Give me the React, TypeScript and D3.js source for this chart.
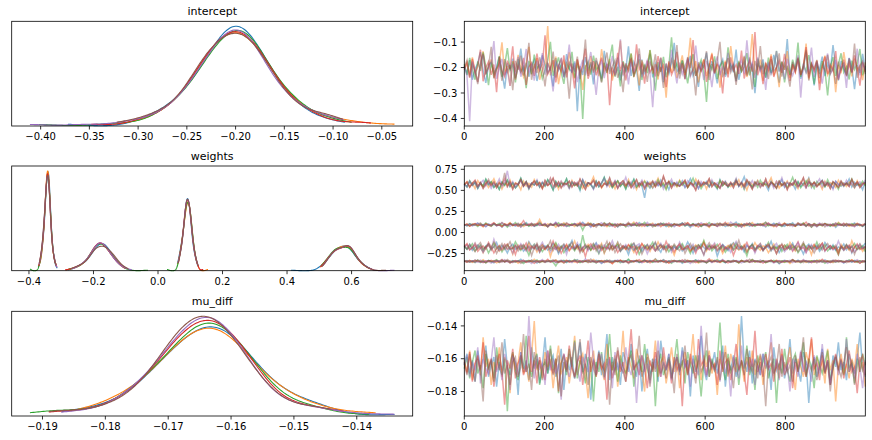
import * as d3 from 'd3';

// chain colours (matplotlib tab10)
const CHAIN_COLORS = ['#1f77b4', '#ff7f0e', '#2ca02c', '#d62728', '#9467bd', '#8c564b'];
const N_DRAWS = 1000;
const DRAW_TICKS = [0, 200, 400, 600, 800];

// posterior samples per chain, thinned across the 1000 draws, values in thousandths
const INTERCEPT = [
  [-196, -223, -171, -248, -205, -184, -139, -212, -260, -191,
   -177, -230, -202, -158, -219, -283, -188, -207, -165, -241,
   -199, -126, -215, -181, -236, -194, -170, -253, -209, -152,
   -186, -222, -200, -274, -163, -211, -190, -237, -147, -204,
   -218, -176, -372, -195, -229, -159, -208, -187, -266, -173,
   -201, -243, -134, -214, -182, -226, -198, -161, -250, -189,
   -210, -117, -233, -178, -205, -292, -169, -220, -193, -145,
   -239, -185, -212, -164, -257, -197, -226, -181, -103, -216,
   -203, -172, -245, -190, -154, -231, -208, -276, -183, -199,
   -141, -224, -175, -211, -262, -192, -168, -236, -206, -186,
   -219, -129, -248, -197, -179, -227, -160, -213, -301, -189,
   -202, -168, -240, -184, -221, -150, -195, -259, -176, -209,
   -88, -232, -188, -214, -166, -244, -201, -137, -225, -180,
   -270, -193, -207, -157, -234, -185, -217, -112, -196, -251,
   -174, -206, -228, -162, -199, -285, -190, -221, -146, -211],
  [-205, -178, -231, -160, -214, -256, -189, -136, -222, -197,
   -168, -240, -209, -183, -101, -227, -193, -272, -175, -216,
   -150, -203, -236, -186, -119, -221, -199, -163, -248, -211,
   -182, -37, -230, -194, -157, -265, -207, -176, -219, -140,
   -200, -243, -171, -212, -288, -190, -225, -155, -208, -184,
   -234, -128, -196, -217, -166, -251, -201, -179, -94, -228,
   -192, -210, -145, -238, -185, -270, -172, -213, -199, -132,
   -224, -187, -247, -161, -206, -318, -181, -220, -170, -241,
   -198, -152, -229, -189, -83, -215, -175, -258, -203, -167,
   -233, -194, -142, -219, -186, -279, -208, -173, -226, -116,
   -197, -245, -180, -211, -159, -237, -191, -68, -223, -204,
   -169, -252, -186, -215, -148, -231, -199, -277, -177, -209,
   -135, -240, -193, -218, -164, -226, -201, -106, -246, -188,
   -214, -172, -262, -196, -153, -229, -207, -183, -297, -190,
   -222, -139, -204, -177, -235, -165, -211, -192, -249, -180],
  [-187, -229, -162, -205, -248, -176, -213, -140, -196, -269,
   -180, -221, -201, -155, -237, -192, -124, -210, -185, -258,
   -167, -216, -198, -281, -174, -226, -149, -203, -190, -243,
   -211, -171, -99, -232, -195, -160, -219, -264, -183, -207,
   -138, -240, -188, -215, -402, -199, -177, -228, -153, -209,
   -193, -255, -182, -221, -166, -110, -236, -197, -274, -175,
   -214, -189, -145, -230, -204, -168, -249, -186, -222, -131,
   -201, -291, -179, -217, -158, -238, -194, -81, -212, -183,
   -226, -172, -206, -262, -191, -147, -233, -199, -170, -219,
   -335, -184, -208, -156, -245, -195, -178, -227, -121, -203,
   -190, -252, -174, -216, -198, -143, -231, -185, -276, -165,
   -209, -187, -240, -161, -222, -200, -134, -214, -180, -258,
   -193, -228, -169, -206, -102, -237, -189, -217, -151, -201,
   -265, -182, -224, -175, -211, -310, -196, -159, -233, -188,
   -144, -219, -198, -247, -173, -208, -185, -127, -230, -194],
  [-209, -183, -241, -166, -222, -195, -130, -254, -201, -177,
   -229, -188, -297, -158, -214, -236, -173, -205, -117, -247,
   -192, -219, -162, -268, -198, -181, -233, -145, -210, -187,
   -73, -226, -204, -171, -258, -193, -215, -152, -239, -180,
   -202, -282, -167, -221, -190, -126, -244, -208, -175, -230,
   -196, -161, -217, -185, -348, -200, -231, -142, -212, -179,
   -250, -194, -168, -224, -109, -207, -186, -263, -173, -219,
   -198, -235, -155, -211, -190, -277, -176, -228, -203, -138,
   -215, -184, -246, -164, -202, -92, -233, -191, -213, -170,
   -256, -197, -148, -222, -185, -206, -302, -178, -239, -160,
   -210, -189, -225, -133, -243, -199, -172, -216, -61, -230,
   -192, -265, -181, -209, -156, -237, -201, -174, -221, -146,
   -204, -252, -187, -218, -165, -229, -195, -120, -240, -183,
   -212, -176, -289, -198, -157, -226, -190, -213, -135, -248,
   -205, -169, -234, -186, -220, -152, -200, -271, -180, -217],
  [-194, -233, -411, -176, -210, -258, -188, -150, -221, -202,
   -181, -96, -244, -197, -166, -229, -208, -272, -185, -214,
   -158, -236, -199, -127, -219, -190, -251, -173, -206, -143,
   -228, -186, -213, -294, -179, -201, -162, -240, -195, -110,
   -220, -183, -257, -204, -170, -231, -191, -139, -216, -308,
   -198, -175, -242, -187, -211, -154, -225, -201, -89, -234,
   -189, -266, -178, -215, -196, -147, -238, -205, -172, -222,
   -356, -193, -209, -161, -247, -184, -218, -130, -200, -262,
   -181, -226, -194, -168, -235, -207, -114, -212, -188, -249,
   -174, -203, -277, -191, -156, -230, -198, -219, -142, -210,
   -185, -255, -196, -171, -224, -93, -206, -182, -241, -160,
   -214, -192, -288, -178, -227, -203, -135, -217, -189, -246,
   -165, -209, -232, -197, -152, -318, -184, -221, -200, -122,
   -237, -176, -213, -263, -190, -145, -226, -206, -170, -243,
   -199, -186, -280, -163, -215, -194, -126, -231, -180, -208],
  [-200, -171, -237, -188, -214, -265, -179, -146, -226, -195,
   -119, -243, -205, -183, -252, -167, -218, -190, -289, -174,
   -209, -153, -231, -197, -103, -248, -186, -222, -160, -201,
   -274, -181, -212, -137, -239, -193, -169, -228, -207, -322,
   -184, -216, -157, -245, -199, -90, -233, -178, -220, -162,
   -206, -259, -189, -141, -225, -196, -172, -240, -211, -297,
   -183, -214, -164, -236, -202, -125, -227, -191, -256, -176,
   -210, -148, -234, -198, -280, -185, -217, -168, -203, -112,
   -243, -190, -221, -159, -230, -206, -310, -179, -213, -195,
   -136, -249, -187, -224, -172, -99, -238, -201, -163, -219,
   -192, -268, -181, -211, -154, -232, -197, -286, -174, -208,
   -116, -226, -193, -245, -167, -214, -200, -144, -236, -185,
   -219, -275, -178, -207, -160, -229, -196, -131, -251, -188,
   -204, -170, -241, -192, -213, -150, -223, -199, -264, -177,
   -209, -185, -230, -165, -218, -106, -240, -194, -175, -226],
];

const WEIGHTS_0 = [
  [-340, -352, -333, -346, -328, -343, -357, -337, -349, -331,
   -344, -361, -336, -341, -325, -348, -339, -354, -334, -345,
   -342, -318, -350, -338, -347, -330, -344, -363, -336, -341,
   -353, -335, -346, -339, -327, -351, -343, -337, -358, -332,
   -345, -340, -322, -349, -336, -343, -355, -338, -347, -329,
   -341, -368, -334, -346, -339, -352, -331, -344, -337, -356,
   -342, -326, -348, -340, -335, -359, -343, -333, -350, -338,
   -345, -312, -347, -341, -336, -354, -339, -344, -330, -349,
   -337, -365, -342, -334, -346, -340, -324, -351, -338, -343,
   -357, -332, -345, -339, -348, -335, -341, -360, -336, -344,
   -328, -350, -342, -337, -353, -340, -346, -319, -343, -338,
   -349, -334, -356, -341, -335, -347, -339, -371, -344, -331,
   -342, -353, -337, -345, -327, -348, -340, -336, -358, -343,
   -333, -346, -341, -350, -325, -344, -338, -355, -336, -347,
   -340, -362, -334, -343, -349, -330, -345, -339, -352, -337],
  [-337, -348, -331, -355, -342, -336, -346, -323, -351, -340,
   -344, -334, -359, -341, -347, -329, -343, -338, -352, -335,
   -366, -341, -333, -349, -339, -345, -317, -350, -337, -343,
   -354, -332, -346, -340, -326, -348, -342, -361, -336, -344,
   -339, -352, -330, -347, -341, -335, -357, -343, -321, -349,
   -338, -345, -333, -350, -342, -369, -337, -346, -331, -344,
   -340, -355, -336, -348, -327, -343, -339, -353, -334, -347,
   -342, -315, -350, -338, -345, -336, -359, -341, -332, -348,
   -344, -339, -354, -329, -346, -340, -337, -363, -343, -335,
   -351, -342, -324, -347, -338, -356, -333, -345, -340, -349,
   -336, -343, -360, -331, -348, -341, -345, -320, -352, -339,
   -344, -334, -357, -342, -337, -350, -328, -346, -340, -353,
   -338, -367, -343, -335, -348, -341, -330, -355, -345, -337,
   -349, -342, -326, -351, -339, -344, -336, -358, -333, -347,
   -341, -350, -338, -345, -322, -348, -343, -335, -356, -340],
  [-343, -335, -350, -338, -356, -329, -345, -341, -361, -334,
   -347, -339, -322, -352, -337, -344, -333, -358, -342, -348,
   -336, -345, -368, -340, -331, -349, -343, -326, -355, -338,
   -346, -341, -334, -353, -397, -344, -339, -330, -350, -336,
   -347, -320, -342, -357, -338, -345, -332, -351, -340, -363,
   -335, -348, -343, -327, -354, -339, -346, -337, -359, -333,
   -344, -316, -349, -341, -336, -352, -343, -330, -347, -338,
   -356, -342, -334, -345, -324, -350, -339, -364, -337, -344,
   -331, -348, -342, -353, -336, -345, -328, -351, -340, -343,
   -358, -333, -346, -339, -319, -347, -341, -355, -335, -349,
   -343, -337, -362, -332, -345, -340, -352, -327, -348, -338,
   -344, -335, -357, -341, -346, -330, -350, -343, -336, -354,
   -339, -347, -323, -345, -340, -359, -334, -348, -342, -337,
   -351, -329, -344, -338, -366, -341, -346, -333, -353, -340,
   -336, -349, -343, -325, -347, -339, -356, -335, -345, -341],
  [-339, -351, -334, -346, -327, -348, -342, -358, -336, -344,
   -331, -353, -340, -345, -321, -349, -338, -362, -343, -335,
   -347, -341, -330, -354, -337, -344, -366, -339, -348, -333,
   -345, -318, -350, -342, -336, -357, -340, -346, -328, -352,
   -343, -337, -360, -334, -347, -341, -325, -349, -338, -355,
   -344, -332, -351, -340, -346, -370, -336, -343, -329, -348,
   -341, -356, -335, -345, -339, -323, -352, -342, -337, -359,
   -333, -347, -343, -330, -350, -338, -364, -345, -336, -341,
   -348, -326, -354, -340, -344, -335, -357, -342, -331, -346,
   -339, -313, -349, -343, -337, -352, -334, -345, -361, -340,
   -346, -332, -350, -338, -343, -327, -355, -341, -336, -348,
   -344, -363, -339, -345, -330, -351, -342, -335, -356, -340,
   -337, -348, -324, -346, -341, -353, -333, -344, -339, -359,
   -342, -335, -349, -317, -345, -340, -357, -336, -347, -331,
   -343, -352, -338, -346, -328, -350, -341, -365, -337, -344],
  [-341, -333, -349, -337, -355, -344, -328, -351, -340, -346,
   -362, -335, -343, -338, -352, -324, -347, -341, -357, -334,
   -345, -339, -331, -350, -342, -367, -336, -348, -343, -320,
   -353, -338, -346, -335, -359, -341, -327, -349, -344, -337,
   -356, -332, -345, -340, -350, -314, -347, -343, -336, -354,
   -339, -364, -342, -330, -348, -338, -345, -325, -352, -341,
   -336, -357, -344, -333, -349, -340, -361, -337, -346, -329,
   -343, -351, -335, -347, -322, -345, -339, -356, -342, -338,
   -348, -331, -353, -341, -369, -336, -344, -327, -350, -340,
   -345, -337, -358, -333, -347, -342, -319, -349, -339, -355,
   -343, -335, -346, -360, -340, -330, -351, -344, -338, -348,
   -326, -353, -341, -345, -336, -363, -342, -334, -350, -339,
   -347, -332, -357, -343, -337, -349, -321, -345, -341, -354,
   -338, -346, -335, -352, -340, -366, -343, -329, -348, -336,
   -344, -358, -339, -333, -351, -342, -323, -347, -340, -355],
  [-342, -336, -353, -339, -347, -326, -350, -343, -360, -334,
   -345, -340, -331, -356, -338, -348, -319, -344, -341, -352,
   -335, -365, -346, -339, -350, -329, -343, -337, -357, -342,
   -333, -348, -341, -324, -353, -345, -338, -362, -336, -347,
   -340, -330, -351, -343, -356, -335, -344, -316, -349, -339,
   -346, -337, -359, -342, -328, -352, -340, -345, -333, -354,
   -338, -368, -343, -347, -332, -350, -341, -325, -355, -337,
   -344, -339, -352, -334, -346, -361, -342, -330, -348, -340,
   -336, -353, -321, -345, -339, -357, -343, -335, -349, -341,
   -364, -338, -346, -331, -351, -344, -327, -354, -340, -347,
   -337, -342, -358, -333, -348, -345, -318, -350, -339, -343,
   -355, -336, -346, -341, -329, -352, -338, -366, -344, -335,
   -347, -340, -323, -351, -342, -337, -356, -334, -348, -345,
   -339, -360, -343, -330, -349, -341, -353, -336, -326, -346,
   -342, -338, -357, -344, -333, -350, -340, -363, -337, -348],
];

const WEIGHTS_1 = [
  [-165, -198, -142, -213, -176, -150, -187, -229, -161, -134,
   -192, -171, -118, -205, -156, -183, -244, -168, -139, -201,
   -177, -153, -221, -186, -108, -164, -195, -147, -236, -173,
   -159, -208, -182, -129, -170, -251, -190, -145, -216, -163,
   -96, -199, -175, -138, -227, -181, -157, -204, -166, -121,
   -188, -144, -240, -172, -197, -152, -179, -115, -211, -162,
   -185, -262, -169, -135, -193, -158, -224, -176, -148, -203,
   -167, -126, -189, -233, -160, -180, -141, -207, -174, -198,
   -155, -219, -184, -112, -170, -246, -163, -191, -137, -178,
   -206, -151, -186, -165, -280, -194, -143, -175, -215, -158,
   -123, -182, -202, -168, -231, -154, -188, -132, -196, -172,
   -161, -214, -146, -179, -104, -200, -166, -238, -184, -150,
   -192, -173, -127, -209, -162, -185, -256, -169, -140, -196,
   -178, -153, -222, -181, -117, -164, -199, -145, -211, -171,
   -187, -136, -205, -160, -243, -176, -149, -193, -168, -126],
  [-170, -143, -206, -181, -128, -195, -162, -239, -176, -151,
   -188, -114, -167, -221, -184, -139, -200, -173, -258, -156,
   -192, -148, -179, -210, -124, -187, -163, -232, -171, -145,
   -199, -159, -286, -183, -134, -205, -168, -190, -152, -217,
   -177, -101, -196, -164, -227, -180, -141, -209, -172, -155,
   -189, -131, -246, -175, -198, -160, -184, -119, -214, -166,
   -203, -150, -178, -237, -161, -193, -137, -186, -169, -224,
   -157, -197, -112, -181, -165, -211, -146, -190, -268, -174,
   -133, -201, -179, -158, -226, -185, -148, -194, -170, -107,
   -218, -163, -187, -140, -203, -176, -249, -182, -153, -197,
   -129, -171, -207, -186, -144, -230, -166, -192, -121, -180,
   -212, -157, -175, -240, -188, -136, -199, -162, -184, -147,
   -195, -117, -172, -220, -160, -185, -138, -205, -177, -264,
   -151, -191, -168, -127, -213, -182, -154, -196, -173, -235,
   -142, -187, -165, -208, -98, -178, -200, -159, -223, -183],
  [-158, -196, -174, -133, -220, -185, -149, -207, -167, -243,
   -180, -122, -192, -163, -231, -176, -145, -201, -188, -109,
   -169, -212, -154, -190, -270, -178, -137, -198, -165, -226,
   -183, -148, -205, -171, -119, -193, -160, -238, -186, -142,
   -175, -217, -152, -199, -31, -181, -164, -210, -140, -189,
   -251, -170, -196, -156, -128, -203, -177, -146, -223, -184,
   -162, -192, -136, -208, -173, -259, -187, -150, -197, -166,
   -115, -214, -179, -143, -191, -161, -229, -182, -154, -201,
   -171, -132, -195, -185, -247, -164, -209, -147, -178, -94,
   -190, -157, -218, -175, -139, -200, -168, -234, -183, -151,
   -206, -126, -180, -163, -194, -277, -172, -144, -211, -186,
   -159, -197, -177, -118, -215, -165, -189, -153, -225, -174,
   -141, -203, -181, -162, -240, -193, -134, -176, -207, -157,
   -187, -113, -199, -170, -148, -219, -184, -161, -195, -264,
   -166, -209, -145, -188, -173, -130, -202, -179, -155, -228],
  [-166, -131, -203, -178, -149, -224, -185, -160, -197, -117,
   -172, -241, -189, -155, -208, -168, -137, -194, -179, -262,
   -151, -199, -183, -126, -216, -163, -190, -145, -230, -175,
   -204, -158, -181, -102, -195, -170, -247, -186, -140, -211,
   -164, -193, -154, -221, -178, -288, -167, -135, -200, -182,
   -148, -212, -174, -191, -123, -206, -161, -236, -187, -156,
   -198, -143, -180, -165, -255, -192, -129, -176, -209, -153,
   -185, -220, -169, -147, -196, -106, -182, -162, -229, -173,
   -139, -201, -188, -157, -214, -177, -244, -164, -192, -125,
   -179, -207, -150, -184, -168, -133, -219, -174, -197, -160,
   -271, -189, -146, -203, -171, -118, -193, -183, -227, -156,
   -176, -210, -163, -138, -198, -181, -249, -167, -144, -205,
   -186, -154, -222, -173, -110, -194, -178, -234, -161, -190,
   -142, -200, -169, -127, -215, -184, -157, -196, -175, -259,
   -162, -208, -182, -149, -231, -171, -135, -202, -188, -165],
  [-173, -147, -205, -186, -124, -193, -160, -237, -178, -152,
   -199, -81, -168, -214, -183, -141, -201, -175, -248, -157,
   -190, -132, -181, -222, -164, -196, -145, -210, -172, -116,
   -185, -158, -229, -176, -203, -139, -188, -167, -260, -150,
   -194, -174, -121, -208, -182, -155, -217, -163, -192, -136,
   -242, -179, -148, -200, -170, -97, -187, -161, -225, -184,
   -143, -197, -176, -211, -156, -134, -190, -168, -253, -180,
   -159, -215, -173, -128, -202, -186, -149, -232, -165, -194,
   -113, -178, -207, -162, -184, -140, -220, -171, -189, -266,
   -154, -198, -169, -125, -212, -177, -146, -195, -183, -235,
   -164, -107, -191, -175, -206, -151, -186, -160, -244, -172,
   -138, -200, -181, -157, -218, -167, -130, -193, -176, -227,
   -189, -153, -211, -170, -119, -197, -162, -240, -180, -144,
   -205, -166, -185, -135, -223, -174, -158, -209, -191, -102,
   -177, -213, -150, -184, -163, -230, -196, -142, -188, -168],
  [-162, -199, -141, -184, -226, -157, -120, -193, -171, -138,
   -211, -160, -248, -186, -132, -202, -167, -109, -190, -153,
   -221, -176, -143, -197, -163, -273, -180, -127, -206, -149,
   -185, -169, -99, -214, -156, -232, -174, -136, -192, -161,
   -118, -203, -151, -242, -183, -140, -198, -166, -129, -219,
   -158, -188, -172, -104, -208, -146, -237, -178, -134, -194,
   -163, -213, -152, -125, -200, -170, -255, -187, -141, -196,
   -159, -111, -210, -175, -148, -229, -165, -191, -137, -180,
   -216, -155, -246, -182, -131, -204, -168, -145, -195, -264,
   -173, -122, -189, -160, -223, -179, -150, -201, -166, -139,
   -207, -181, -92, -193, -157, -235, -172, -144, -198, -162,
   -128, -217, -177, -154, -190, -168, -250, -185, -135, -205,
   -163, -197, -147, -183, -227, -171, -116, -200, -156, -188,
   -241, -174, -139, -209, -165, -130, -192, -179, -152, -220,
   -168, -186, -143, -203, -161, -258, -178, -133, -195, -170],
];

const WEIGHTS_2 = [
  [90, 78, 101, 86, 95, 112, 83, 92, 70, 99,
   88, 104, 81, 94, 63, 97, 85, 109, 91, 76,
   100, 87, 93, 118, 82, 96, 74, 89, 106, 84,
   92, 67, 98, 87, 115, 80, 94, 102, 73, 90,
   86, 108, 79, 95, 121, 88, 97, 71, 103, 85,
   93, 77, 99, 90, 110, 83, 96, 65, 101, 87,
   91, 105, 76, 94, 84, 117, 89, 98, 72, 92,
   81, 100, 88, 107, 95, 69, 86, 103, 78, 97,
   90, 113, 82, 93, 60, 99, 87, 104, 80, 95,
   89, 75, 101, 92, 108, 84, 96, 70, 94, 86,
   98, 124, 79, 91, 85, 102, 74, 97, 88, 106,
   83, 93, 66, 100, 89, 111, 78, 95, 87, 73,
   102, 90, 116, 81, 94, 86, 99, 77, 105, 88,
   92, 68, 97, 84, 109, 91, 80, 101, 62, 96,
   87, 104, 75, 93, 89, 114, 83, 98, 71, 100],
  [88, 99, 76, 93, 107, 84, 96, 66, 102, 90,
   81, 111, 87, 95, 73, 100, 92, 119, 79, 97,
   86, 104, 70, 94, 89, 108, 82, 98, 155, 91,
   77, 103, 88, 95, 64, 101, 85, 114, 80, 93,
   97, 72, 106, 87, 99, 83, 117, 90, 75, 96,
   102, 84, 93, 68, 109, 88, 98, 78, 105, 91,
   83, 100, 94, 123, 81, 96, 71, 103, 87, 92,
   110, 76, 98, 89, 85, 104, 67, 95, 88, 101,
   79, 97, 92, 115, 83, 94, 74, 106, 89, 99,
   86, 61, 102, 91, 108, 80, 96, 87, 112, 77,
   93, 99, 84, 105, 72, 97, 90, 118, 82, 95,
   88, 107, 78, 100, 92, 69, 103, 86, 94, 113,
   81, 96, 89, 74, 101, 91, 110, 83, 98, 65,
   104, 87, 95, 79, 106, 90, 84, 99, 76, 121,
   92, 85, 102, 73, 97, 88, 109, 80, 94, 100],
  [93, 81, 104, 88, 97, 70, 101, 86, 113, 92,
   78, 99, 89, 107, 84, 95, 63, 102, 91, 118,
   80, 96, 87, 105, 74, 93, 100, 82, 110, 89,
   97, 68, 103, 85, 94, 116, 79, 98, 88, 72,
   106, 91, 83, 100, 28, 95, 87, 109, 77, 92,
   99, 84, 115, 90, 73, 104, 86, 96, 81, 102,
   65, 94, 89, 107, 80, 97, 92, 121, 83, 99,
   87, 75, 101, 91, 110, 85, 96, 69, 103, 88,
   94, 112, 78, 98, 86, 106, 82, 93, 71, 100,
   90, 117, 84, 95, 76, 102, 89, 108, 80, 97,
   92, 66, 104, 87, 99, 83, 111, 90, 74, 96,
   101, 88, 119, 79, 94, 86, 105, 91, 70, 98,
   85, 103, 93, 77, 100, 89, 114, 82, 96, 64,
   107, 87, 95, 80, 102, 91, 73, 99, 84, 110,
   93, 78, 97, 88, 106, 83, 100, 90, 75, 104],
  [87, 99, 78, 94, 106, 83, 91, 72, 103, 89,
   96, 115, 81, 93, 68, 101, 88, 110, 85, 97,
   74, 92, 140, 86, 100, 79, 95, 108, 84, 90,
   102, 66, 98, 87, 113, 80, 94, 76, 105, 91,
   83, 99, 89, 120, 77, 96, 86, 104, 71, 93,
   100, 85, 111, 82, 97, 90, 63, 102, 88, 95,
   79, 107, 92, 84, 118, 87, 98, 73, 101, 90,
   94, 81, 105, 69, 97, 89, 112, 83, 99, 86,
   76, 103, 91, 116, 84, 95, 88, 65, 100, 92,
   108, 80, 97, 87, 74, 104, 93, 122, 82, 96,
   89, 101, 70, 94, 85, 110, 91, 78, 98, 87,
   103, 83, 96, 114, 81, 92, 67, 100, 88, 106,
   84, 97, 90, 75, 109, 86, 95, 124, 80, 93,
   99, 71, 102, 88, 106, 83, 94, 77, 97, 91,
   85, 111, 79, 96, 89, 73, 104, 92, 82, 100],
  [91, 84, 102, 77, 96, 110, 86, 93, 69, 99,
   88, 105, 80, 95, 117, 83, 92, 74, 101, 87,
   97, 65, 103, 89, 94, 112, 79, 98, 85, 90,
   107, 76, 96, 88, 122, 82, 100, 91, 71, 94,
   86, 104, 93, 78, 109, 89, 97, 62, 102, 85,
   95, 115, 81, 99, 87, 73, 106, 90, 84, 98,
   92, 70, 101, 86, 113, 80, 96, 89, 120, 83,
   99, 88, 75, 104, 91, 108, 82, 94, 67, 97,
   87, 110, 84, 100, 93, 77, 103, 86, 116, 90,
   79, 98, 91, 106, 72, 95, 88, 101, 83, 124,
   94, 85, 97, 64, 102, 89, 111, 81, 96, 87,
   100, 76, 93, 108, 84, 99, 90, 118, 78, 95,
   89, 103, 71, 97, 86, 105, 92, 80, 100, 66,
   96, 88, 114, 83, 94, 75, 101, 90, 107, 85,
   98, 79, 93, 104, 87, 68, 99, 91, 82, 109],
  [89, 97, 76, 103, 85, 94, 113, 81, 99, 88,
   72, 106, 91, 84, 118, 95, 79, 101, 87, 93,
   110, 66, 98, 90, 83, 104, 77, 96, 125, 86,
   92, 80, 107, 89, 97, 71, 102, 85, 115, 94,
   88, 99, 74, 105, 91, 82, 109, 87, 96, 63,
   101, 90, 78, 97, 111, 84, 93, 69, 103, 88,
   95, 120, 81, 98, 87, 76, 106, 91, 84, 100,
   67, 94, 89, 112, 82, 97, 90, 73, 104, 86,
   99, 85, 116, 92, 79, 101, 88, 107, 75, 96,
   90, 70, 103, 87, 94, 114, 83, 98, 91, 77,
   105, 89, 96, 64, 100, 86, 110, 80, 93, 97,
   84, 102, 122, 88, 95, 75, 99, 91, 82, 108,
   93, 78, 101, 86, 117, 90, 97, 72, 104, 87,
   81, 96, 89, 106, 68, 100, 92, 85, 113, 94,
   98, 83, 107, 90, 76, 103, 88, 95, 79, 101],
];

const WEIGHTS_3 = [
  [575, 541, 608, 560, 592, 523, 586, 551, 631, 569,
   600, 537, 579, 512, 597, 563, 618, 546, 588, 531,
   571, 644, 555, 603, 527, 583, 565, 611, 540, 591,
   557, 626, 574, 505, 604, 548, 585, 568, 637, 533,
   596, 560, 580, 498, 620, 552, 589, 572, 525, 607,
   544, 582, 655, 562, 598, 536, 577, 613, 550, 587,
   519, 601, 566, 633, 542, 584, 558, 412, 605, 573,
   529, 593, 556, 622, 547, 581, 510, 599, 567, 588,
   553, 615, 535, 576, 640, 561, 594, 521, 582, 569,
   606, 545, 590, 564, 517, 628, 559, 597, 538, 578,
   571, 612, 549, 585, 663, 557, 600, 532, 574, 616,
   543, 589, 566, 503, 609, 552, 583, 570, 627, 539,
   595, 561, 579, 515, 602, 547, 586, 574, 647, 534,
   598, 555, 582, 620, 544, 591, 563, 526, 606, 572,
   549, 587, 568, 636, 541, 596, 559, 577, 509, 604],
  [568, 604, 543, 587, 521, 615, 572, 549, 596, 534,
   580, 638, 557, 601, 516, 585, 563, 622, 545, 592,
   575, 507, 610, 552, 583, 539, 627, 568, 597, 527,
   577, 559, 643, 547, 590, 514, 606, 564, 581, 536,
   618, 555, 594, 572, 524, 603, 548, 586, 661, 561,
   599, 530, 578, 613, 544, 589, 519, 607, 567, 582,
   541, 630, 556, 595, 511, 584, 570, 616, 550, 598,
   533, 576, 646, 562, 591, 525, 609, 553, 579, 542,
   621, 566, 602, 537, 585, 557, 634, 573, 548, 594,
   518, 605, 564, 588, 531, 612, 558, 597, 575, 545,
   590, 566, 625, 540, 581, 503, 600, 571, 554, 617,
   536, 593, 562, 584, 649, 551, 606, 528, 577, 563,
   611, 546, 589, 570, 522, 602, 558, 587, 639, 543,
   597, 567, 580, 514, 608, 553, 592, 574, 535, 620,
   560, 585, 547, 599, 571, 528, 614, 556, 589, 565],
  [578, 542, 616, 561, 595, 527, 587, 552, 633, 568,
   604, 535, 575, 511, 599, 558, 623, 546, 590, 530,
   566, 642, 554, 601, 519, 584, 563, 612, 539, 593,
   550, 628, 576, 506, 605, 544, 588, 571, 637, 533,
   597, 559, 581, 515, 619, 548, 591, 565, 522, 609,
   542, 583, 652, 562, 600, 531, 577, 614, 547, 589,
   517, 603, 564, 630, 538, 585, 553, 605, 570, 527,
   594, 556, 624, 543, 581, 508, 600, 567, 587, 549,
   611, 560, 596, 534, 578, 645, 555, 592, 520, 573,
   586, 545, 607, 569, 529, 618, 557, 599, 540, 582,
   565, 631, 551, 593, 512, 604, 572, 548, 589, 536,
   621, 563, 583, 544, 597, 575, 526, 610, 558, 591,
   539, 579, 655, 561, 602, 532, 574, 616, 550, 584,
   524, 606, 566, 588, 543, 627, 556, 595, 572, 513,
   598, 548, 587, 568, 635, 541, 579, 562, 609, 553],
  [564, 600, 538, 585, 621, 548, 593, 524, 578, 610,
   556, 597, 532, 588, 569, 639, 543, 599, 513, 582,
   566, 626, 551, 594, 534, 579, 607, 557, 590, 520,
   616, 561, 581, 647, 545, 601, 528, 586, 571, 609,
   540, 595, 553, 633, 567, 510, 591, 576, 618, 547,
   598, 537, 584, 564, 643, 552, 603, 523, 580, 614,
   559, 592, 531, 574, 628, 546, 600, 518, 587, 568,
   608, 541, 596, 558, 669, 573, 605, 529, 589, 562,
   550, 583, 620, 536, 592, 566, 503, 611, 554, 597,
   577, 640, 544, 586, 563, 525, 604, 571, 549, 594,
   531, 612, 560, 588, 546, 624, 575, 515, 599, 565,
   583, 552, 636, 541, 596, 570, 527, 606, 557, 590,
   509, 587, 562, 618, 548, 579, 651, 535, 601, 567,
   593, 543, 580, 614, 555, 589, 522, 603, 572, 537,
   611, 559, 584, 546, 630, 564, 598, 533, 576, 592],
  [572, 546, 609, 561, 593, 532, 585, 619, 553, 598,
   524, 578, 565, 635, 542, 590, 733, 557, 604, 537,
   581, 613, 549, 596, 518, 587, 567, 626, 544, 601,
   556, 577, 645, 534, 592, 563, 611, 547, 584, 521,
   606, 570, 598, 540, 629, 559, 588, 575, 513, 602,
   551, 595, 638, 543, 582, 564, 617, 531, 590, 573,
   656, 550, 600, 527, 586, 568, 622, 545, 597, 536,
   580, 608, 557, 593, 515, 584, 571, 632, 552, 601,
   562, 589, 539, 614, 576, 548, 596, 525, 605, 566,
   583, 541, 624, 559, 592, 533, 578, 611, 554, 587,
   570, 643, 546, 599, 520, 585, 563, 616, 549, 594,
   535, 579, 603, 561, 588, 527, 609, 572, 650, 544,
   597, 558, 583, 617, 538, 591, 566, 529, 604, 575,
   552, 589, 636, 542, 598, 563, 580, 511, 607, 569,
   586, 548, 620, 555, 593, 534, 577, 601, 560, 625],
  [569, 598, 538, 583, 614, 551, 592, 525, 577, 630,
   560, 601, 533, 587, 566, 707, 547, 595, 519, 582,
   571, 623, 554, 604, 541, 580, 611, 563, 589, 528,
   618, 557, 584, 640, 548, 599, 535, 585, 574, 607,
   544, 593, 556, 634, 567, 515, 590, 576, 621, 550,
   602, 539, 581, 564, 650, 553, 605, 530, 586, 616,
   559, 594, 536, 573, 627, 546, 597, 522, 588, 570,
   612, 543, 596, 558, 661, 578, 603, 532, 591, 565,
   549, 584, 619, 540, 593, 568, 507, 609, 555, 598,
   579, 637, 545, 587, 562, 526, 606, 572, 551, 595,
   534, 613, 561, 589, 547, 625, 576, 517, 600, 566,
   585, 554, 633, 542, 597, 571, 529, 608, 558, 592,
   512, 588, 563, 620, 549, 580, 645, 537, 603, 568,
   594, 546, 582, 615, 557, 590, 524, 605, 574, 539,
   610, 561, 586, 548, 629, 567, 599, 535, 578, 593],
];

const MU_DIFF = [
  [-163, -157, -169, -161, -174, -155, -166, -160, -152, -171,
   -164, -159, -177, -162, -167, -148, -165, -170, -158, -163,
   -182, -156, -168, -161, -173, -153, -166, -160, -175, -164,
   -147, -169, -162, -158, -171, -165, -154, -179, -161, -167,
   -159, -172, -163, -150, -168, -157, -164, -185, -160, -166,
   -155, -170, -162, -145, -173, -159, -167, -163, -176, -156,
   -161, -168, -151, -165, -171, -158, -180, -163, -154, -169,
   -166, -160, -174, -149, -162, -167, -157, -172, -164, -159,
   -170, -153, -165, -161, -183, -158, -168, -162, -146, -166,
   -173, -160, -164, -156, -169, -163, -152, -177, -161, -167,
   -158, -171, -165, -134, -162, -168, -155, -175, -160, -164,
   -170, -157, -166, -161, -179, -153, -167, -163, -159, -172,
   -164, -148, -169, -160, -166, -174, -156, -162, -187, -165,
   -159, -171, -163, -154, -168, -161, -176, -158, -165, -150,
   -167, -162, -173, -157, -164, -169, -160, -144, -166, -171],
  [-161, -168, -155, -173, -163, -158, -170, -147, -165, -160,
   -176, -162, -167, -153, -171, -159, -164, -181, -157, -166,
   -162, -150, -169, -164, -174, -158, -137, -167, -161, -172,
   -156, -165, -160, -178, -163, -152, -169, -166, -159, -175,
   -163, -146, -170, -161, -157, -168, -184, -164, -155, -171,
   -160, -166, -173, -151, -162, -167, -158, -177, -164, -143,
   -169, -159, -165, -172, -154, -161, -168, -180, -157, -163,
   -166, -149, -171, -162, -159, -175, -165, -153, -168, -160,
   -178, -164, -156, -170, -162, -145, -167, -161, -173, -158,
   -165, -155, -169, -163, -182, -160, -166, -152, -171, -157,
   -164, -168, -139, -162, -174, -159, -167, -155, -170, -163,
   -158, -176, -165, -161, -150, -169, -164, -172, -157, -166,
   -162, -153, -168, -179, -160, -165, -171, -156, -163, -148,
   -170, -159, -166, -162, -175, -154, -167, -161, -186, -164,
   -157, -169, -163, -172, -160, -166, -151, -168, -162, -177],
  [-166, -159, -172, -162, -155, -169, -164, -178, -157, -167,
   -161, -174, -153, -165, -170, -160, -192, -163, -156, -168,
   -173, -158, -166, -146, -164, -171, -161, -157, -176, -165,
   -162, -169, -152, -167, -160, -181, -163, -158, -170, -154,
   -165, -149, -172, -161, -166, -175, -159, -164, -186, -162,
   -168, -156, -171, -163, -145, -167, -160, -174, -158, -165,
   -169, -162, -155, -177, -164, -161, -168, -151, -166, -173,
   -160, -189, -163, -157, -170, -165, -159, -172, -162, -148,
   -167, -161, -175, -156, -164, -169, -158, -166, -183, -163,
   -155, -171, -160, -167, -162, -138, -165, -173, -157, -168,
   -164, -159, -176, -161, -166, -152, -170, -163, -179, -158,
   -167, -162, -156, -172, -165, -160, -187, -163, -169, -154,
   -166, -174, -161, -157, -168, -163, -150, -171, -160, -165,
   -178, -158, -164, -169, -162, -155, -173, -166, -159, -167,
   -161, -170, -147, -165, -163, -175, -160, -168, -157, -164],
  [-162, -169, -156, -174, -163, -159, -167, -150, -171, -165,
   -160, -177, -164, -157, -168, -188, -161, -166, -154, -172,
   -163, -158, -170, -165, -146, -168, -161, -175, -159, -166,
   -173, -155, -164, -169, -160, -180, -163, -157, -167, -152,
   -165, -171, -162, -158, -176, -164, -149, -168, -161, -170,
   -157, -166, -163, -185, -159, -172, -165, -155, -168, -162,
   -174, -160, -142, -167, -163, -170, -158, -165, -178, -161,
   -168, -156, -164, -171, -153, -166, -162, -175, -159, -167,
   -163, -189, -160, -169, -157, -165, -172, -148, -164, -161,
   -170, -158, -166, -163, -176, -155, -168, -162, -160, -173,
   -164, -151, -167, -161, -169, -182, -159, -165, -143, -168,
   -162, -171, -157, -166, -163, -174, -160, -167, -154, -170,
   -165, -159, -178, -162, -168, -156, -164, -171, -161, -147,
   -166, -163, -173, -158, -169, -161, -176, -164, -157, -167,
   -160, -172, -163, -155, -168, -165, -181, -162, -158, -170],
  [-164, -158, -171, -162, -167, -153, -175, -160, -166, -169,
   -161, -147, -168, -163, -173, -157, -165, -179, -159, -162,
   -170, -156, -164, -168, -134, -161, -172, -158, -166, -163,
   -176, -155, -167, -160, -169, -163, -185, -157, -165, -171,
   -162, -150, -166, -174, -159, -164, -168, -144, -161, -170,
   -163, -157, -172, -165, -160, -178, -156, -167, -162, -169,
   -153, -165, -170, -161, -187, -164, -158, -168, -163, -175,
   -160, -166, -149, -171, -162, -167, -157, -173, -164, -159,
   -168, -155, -165, -162, -177, -160, -166, -170, -140, -163,
   -171, -158, -164, -167, -161, -174, -156, -169, -163, -183,
   -159, -166, -172, -152, -165, -162, -168, -160, -176, -164,
   -170, -157, -163, -166, -145, -169, -161, -173, -158, -167,
   -164, -180, -160, -165, -171, -155, -168, -162, -166, -174,
   -158, -163, -169, -151, -167, -161, -175, -164, -159, -170,
   -162, -166, -148, -168, -163, -172, -157, -165, -178, -161],
  [-163, -170, -157, -166, -174, -160, -168, -186, -155, -165,
   -161, -172, -158, -167, -150, -169, -164, -176, -162, -159,
   -171, -165, -145, -168, -163, -179, -156, -166, -161, -173,
   -160, -167, -154, -170, -164, -158, -183, -162, -168, -157,
   -165, -172, -161, -148, -169, -163, -176, -159, -166, -171,
   -156, -164, -167, -160, -188, -162, -170, -153, -165, -168,
   -174, -161, -158, -166, -163, -146, -171, -165, -159, -177,
   -162, -168, -155, -169, -164, -172, -160, -166, -181, -157,
   -167, -163, -152, -170, -161, -165, -175, -158, -168, -164,
   -144, -171, -162, -166, -159, -173, -163, -156, -169, -165,
   -178, -160, -167, -162, -170, -154, -164, -168, -161, -172,
   -157, -166, -189, -163, -159, -169, -165, -151, -171, -162,
   -168, -164, -174, -158, -166, -161, -147, -170, -163, -167,
   -160, -173, -165, -156, -169, -162, -180, -164, -158, -166,
   -171, -163, -153, -168, -161, -176, -165, -159, -167, -162],
];

// axis tick values
const INTERCEPT_KDE_TICKS = [-0.4, -0.35, -0.3, -0.25, -0.2, -0.15, -0.1, -0.05];
const INTERCEPT_TRACE_TICKS = [-0.4, -0.3, -0.2, -0.1];
const WEIGHTS_KDE_TICKS = [-0.4, -0.2, 0.0, 0.2, 0.4, 0.6];
const WEIGHTS_TRACE_TICKS = [-0.25, 0.0, 0.25, 0.5, 0.75];
const MU_DIFF_KDE_TICKS = [-0.19, -0.18, -0.17, -0.16, -0.15, -0.14];
const MU_DIFF_TRACE_TICKS = [-0.18, -0.16, -0.14];

const VARIABLES = [
  { name: 'intercept', components: [INTERCEPT], kdeTicks: INTERCEPT_KDE_TICKS, kdeDigits: 2, traceTicks: INTERCEPT_TRACE_TICKS, traceDigits: 1 },
  { name: 'weights', components: [WEIGHTS_0, WEIGHTS_1, WEIGHTS_2, WEIGHTS_3], kdeTicks: WEIGHTS_KDE_TICKS, kdeDigits: 1, traceTicks: WEIGHTS_TRACE_TICKS, traceDigits: 2 },
  { name: 'mu_diff', components: [MU_DIFF], kdeTicks: MU_DIFF_KDE_TICKS, kdeDigits: 2, traceTicks: MU_DIFF_TRACE_TICKS, traceDigits: 2 },
];

// layout
const W = 872;
const H = 440;
const COL_X = [11.7, 464.3];
const ROW_Y = [21.3, 166, 311.3];
const AX_W = 401;
const AX_H = 104.7;
const FONT = '"DejaVu Sans", sans-serif';
const BW_SCALE = 1.0;
const GRID = 200;

const fmt = (digits: number) => (v: number) => d3.format(`.${digits}f`)(v).replace('-', '\u2212');

// gaussian kde, evaluated between the chain's smallest and largest sample
function kde(values: number[]): [number, number][] {
  const n = values.length;
  const sd = d3.deviation(values) || 1;
  const bw = 1.06 * sd * Math.pow(n, -0.2) * BW_SCALE;
  const [lo, hi] = d3.extent(values) as [number, number];
  const norm = 1 / (Math.sqrt(2 * Math.PI) * bw * n);
  return d3.range(GRID + 1).map(i => {
    const x = lo + ((hi - lo) * i) / GRID;
    const s = d3.sum(values, v => Math.exp(-0.5 * ((x - v) / bw) ** 2));
    return [x, s * norm];
  });
}

function XTicks({ scale, ticks, format, h }: { scale: d3.ScaleLinear<number, number>; ticks: number[]; format: (v: number) => string; h: number }) {
  return (
    <g>
      {ticks.map(t => (
        <g key={t} transform={`translate(${scale(t)},${h})`}>
          <line y2={3.5} stroke="#000" strokeWidth={0.8} />
          <text y={14.3} textAnchor="middle" fontSize={10} fill="#000">{format(t)}</text>
        </g>
      ))}
    </g>
  );
}

function Row({ variable, row }: { variable: typeof VARIABLES[number]; row: number }) {
  const samples = variable.components.map(comp => comp.map(chain => chain.map(v => v / 1000)));
  const all = samples.flat(2);
  const [lo, hi] = d3.extent(all) as [number, number];
  const pad = (hi - lo) * 0.05;
  const valueDomain: [number, number] = [lo - pad, hi + pad];

  // density panel
  const curves = samples.flatMap(comp => comp.map((chain, c) => ({ c, pts: kde(chain) })));
  const maxDens = d3.max(curves, cv => d3.max(cv.pts, p => p[1])) as number;
  const xKde = d3.scaleLinear().domain(valueDomain).range([0, AX_W]);
  const yKde = d3.scaleLinear().domain([0, maxDens * 1.05]).range([AX_H, 0]);
  const kdeLine = d3.line<[number, number]>().x(p => xKde(p[0])).y(p => yKde(p[1]));

  // trace panel
  const xTrace = d3.scaleLinear().domain([0, N_DRAWS - 1]).range([0, AX_W]);
  const yTrace = d3.scaleLinear().domain(valueDomain).range([AX_H, 0]);
  const traceLine = d3.line<number>()
    .x((_, i, arr) => xTrace((i * (N_DRAWS - 1)) / (arr.length - 1)))
    .y(v => yTrace(v));

  const top = ROW_Y[row];
  const traceFmt = fmt(variable.traceDigits);

  return (
    <g>
      <g transform={`translate(${COL_X[0]},${top})`}>
        {curves.map((cv, i) => (
          <path key={i} d={kdeLine(cv.pts) || ''} fill="none" stroke={CHAIN_COLORS[cv.c]} strokeWidth={1.1} />
        ))}
        <rect width={AX_W} height={AX_H} fill="none" stroke="#000" strokeWidth={0.8} />
        <XTicks scale={xKde} ticks={variable.kdeTicks} format={fmt(variable.kdeDigits)} h={AX_H} />
        <text x={AX_W / 2} y={-6} textAnchor="middle" fontSize={11} fill="#000">{variable.name}</text>
      </g>
      <g transform={`translate(${COL_X[1]},${top})`}>
        {CHAIN_COLORS.map((color, c) =>
          samples.map((comp, k) => (
            <path key={`${c}-${k}`} d={traceLine(comp[c]) || ''} fill="none" stroke={color} strokeOpacity={0.45} strokeWidth={1.5} />
          ))
        )}
        <rect width={AX_W} height={AX_H} fill="none" stroke="#000" strokeWidth={0.8} />
        <XTicks scale={xTrace} ticks={DRAW_TICKS} format={d3.format('d')} h={AX_H} />
        {variable.traceTicks.map(t => (
          <g key={t} transform={`translate(0,${yTrace(t)})`}>
            <line x2={-3.5} stroke="#000" strokeWidth={0.8} />
            <text x={-7} dy="0.36em" textAnchor="end" fontSize={10} fill="#000">{traceFmt(t)}</text>
          </g>
        ))}
        <text x={AX_W / 2} y={-6} textAnchor="middle" fontSize={11} fill="#000">{variable.name}</text>
      </g>
    </g>
  );
}

export default function App() {
  return (
    <svg
      width={W}
      height={H}
      viewBox={`0 0 ${W} ${H}`}
      style={{ position: 'absolute', left: 0, top: 0, background: '#fff', fontFamily: FONT }}
    >
      <rect width={W} height={H} fill="#fff" />
      {VARIABLES.map((v, i) => (
        <Row key={v.name} variable={v} row={i} />
      ))}
    </svg>
  );
}
